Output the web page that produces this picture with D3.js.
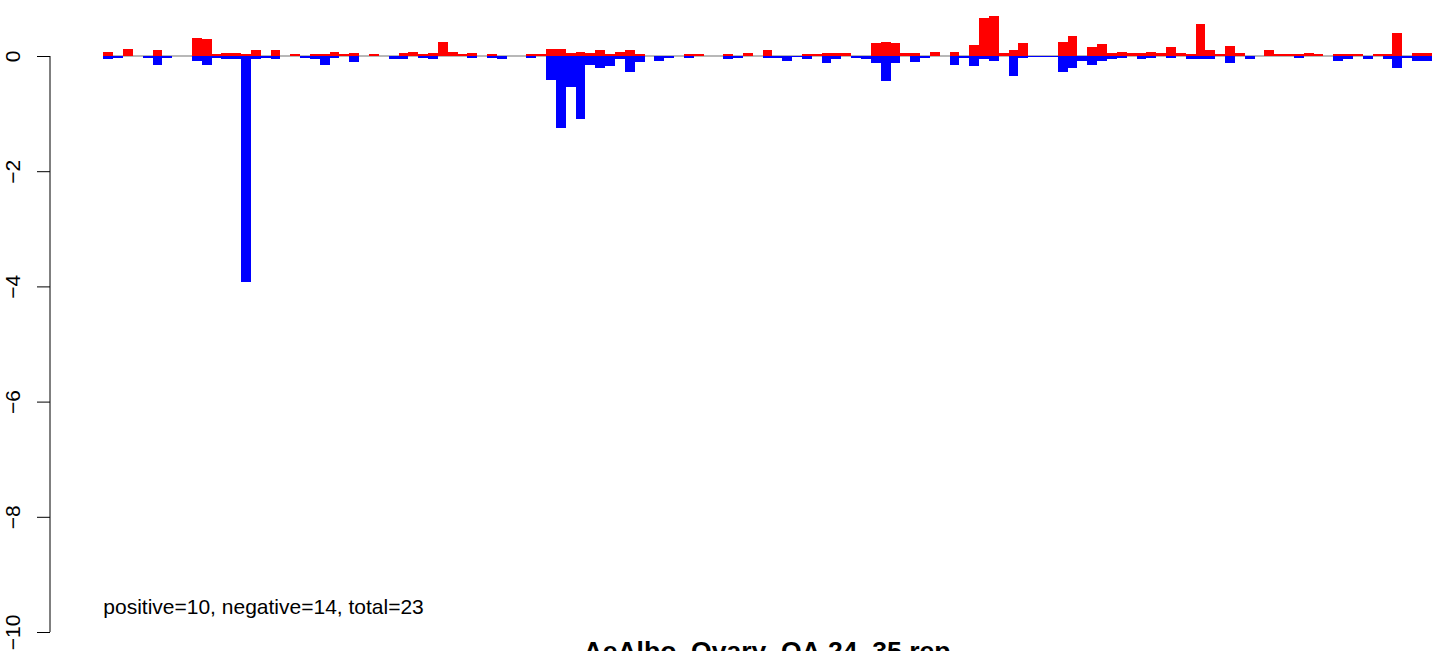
<!DOCTYPE html>
<html>
<head>
<meta charset="utf-8">
<script src="https://cdn.jsdelivr.net/npm/d3@7"></script>
<style>
  html, body { margin: 0; padding: 0; background: #fff; overflow: hidden; }
  svg { display: block; }
  text { font-family: "Liberation Sans", Arial, Helvetica, sans-serif; }
</style>
</head>
<body>
<svg id="chart" width="1439" height="651"></svg>
<script>
// ---- data ----
const positiveValues = [
  0.065, 0, 0.13, 0, 0, 0.10, 0, 0, 0, 0.31,
  0.29, 0.03, 0.05, 0.05, 0.03, 0.10, 0, 0.10, 0, 0.03,
  0, 0.03, 0.03, 0.065, 0.03, 0.05, 0, 0.03, 0, 0,
  0.05, 0.065, 0.03, 0.05, 0.25, 0.065, 0.03, 0.05, 0, 0.03,
  0, 0, 0, 0.03, 0.03, 0.115, 0.13, 0.05, 0.065, 0.05,
  0.10, 0.03, 0.065, 0.10, 0.03, 0, 0, 0, 0, 0.03,
  0.03, 0, 0, 0.03, 0, 0.05, 0, 0.10, 0, 0,
  0, 0.03, 0.03, 0.05, 0.05, 0.05, 0, 0, 0.22, 0.25,
  0.22, 0.05, 0.05, 0, 0.065, 0, 0.065, 0, 0.19, 0.66,
  0.69, 0.05, 0.10, 0.22, 0, 0, 0, 0.24, 0.34, 0,
  0.16, 0.21, 0.05, 0.065, 0.05, 0.05, 0.065, 0.05, 0.16, 0.05,
  0.03, 0.56, 0.10, 0.03, 0.18, 0.05, 0, 0, 0.11, 0.03,
  0.03, 0.03, 0.06, 0.03, 0, 0.03, 0.03, 0.03, 0, 0.03,
  0.03, 0.40, 0, 0.05, 0.05
];
const negativeValues = [
  -0.06, -0.035, 0, 0, -0.03, -0.16, -0.03, 0, 0, -0.09,
  -0.16, -0.035, -0.06, -0.06, -3.93, -0.06, -0.03, -0.06, 0, 0,
  -0.03, -0.06, -0.16, -0.035, 0, -0.11, 0, 0, 0, -0.06,
  -0.06, 0, -0.035, -0.06, 0, 0, 0, -0.035, 0, -0.035,
  -0.06, 0, 0, -0.035, 0, -0.42, -1.25, -0.53, -1.09, -0.16,
  -0.21, -0.175, -0.06, -0.28, -0.11, 0, -0.09, -0.035, 0, -0.035,
  0, 0, 0, -0.06, -0.035, 0, 0, -0.035, -0.035, -0.09,
  -0.02, -0.06, 0, -0.12, -0.06, 0, -0.035, -0.06, -0.12, -0.43,
  -0.12, 0, -0.11, -0.035, 0, 0, -0.16, -0.035, -0.175, -0.06,
  -0.09, 0, -0.35, -0.035, -0.02, -0.02, -0.02, -0.28, -0.21, -0.09,
  -0.16, -0.09, -0.06, -0.035, 0, -0.06, -0.035, 0, -0.035, 0,
  -0.06, -0.06, -0.06, 0, -0.13, 0, -0.06, 0, 0, 0,
  0, -0.035, 0, 0, 0, -0.09, -0.06, 0, -0.06, 0,
  -0.06, -0.21, -0.035, -0.09, -0.09
];
const categories = positiveValues.map((_, i) => "g" + (i + 1));
const yTickValues = [0, -2, -4, -6, -8, -10];
const yTickLabels = ["0", "\u22122", "\u22124", "\u22126", "\u22128", "\u221210"];
const titleText = "AeAlbo_Ovary_OA.24_35.rep";
const noteText = "positive=10, negative=14, total=23";

// ---- layout ----
const svg = d3.select("#chart");
const barLeft = 103.3, barRight = 1431.7;
const axisX = 50;

const x = d3.scaleBand().domain(categories).range([barLeft, barRight]).padding(0);
const y = d3.scaleLinear().domain([-10, 0]).range([632, 56]);

// zero line
svg.append("line")
  .attr("x1", barLeft).attr("x2", barRight)
  .attr("y1", y(0)).attr("y2", y(0))
  .attr("stroke", "#a0a0a0").attr("stroke-width", 1.5);

// positive bars
svg.append("g").selectAll("rect")
  .data(positiveValues.map((v, i) => ({ c: categories[i], v })))
  .join("rect")
  .attr("x", d => x(d.c))
  .attr("width", x.bandwidth())
  .attr("y", d => y(Math.max(0, d.v)))
  .attr("height", d => Math.abs(y(d.v) - y(0)))
  .attr("fill", "#ff0000")
  .attr("shape-rendering", "crispEdges");

// negative bars
svg.append("g").selectAll("rect")
  .data(negativeValues.map((v, i) => ({ c: categories[i], v })))
  .join("rect")
  .attr("x", d => x(d.c))
  .attr("width", x.bandwidth())
  .attr("y", d => y(Math.max(0, d.v)))
  .attr("height", d => Math.abs(y(d.v) - y(0)))
  .attr("fill", "#0000ff")
  .attr("shape-rendering", "crispEdges");

// y axis
const yAxis = d3.axisLeft(y).tickValues(yTickValues).tickSize(13)
  .tickFormat((d, i) => yTickLabels[i]);
const gy = svg.append("g").attr("transform", `translate(${axisX},0)`).call(yAxis);
gy.select(".domain").attr("stroke", "#000").attr("fill", "none")
  .attr("d", `M0,${y(0)}V${y(-10)}`);
gy.selectAll(".tick line").attr("stroke", "#000");
gy.selectAll(".tick text")
  .attr("font-size", 21)
  .attr("fill", "#000")
  .attr("text-anchor", "middle")
  .attr("x", 0).attr("y", 0).attr("dy", 0)
  .attr("transform", "translate(-30,0) rotate(-90)");

// note text
svg.append("text")
  .attr("x", barLeft).attr("y", 614)
  .attr("font-size", 21)
  .attr("fill", "#000")
  .text(noteText);

// title
svg.append("text")
  .attr("x", 767).attr("y", 660)
  .attr("text-anchor", "middle")
  .attr("font-size", 26.5)
  .attr("font-weight", "bold")
  .attr("fill", "#000")
  .text(titleText);
</script>
</body>
</html>
